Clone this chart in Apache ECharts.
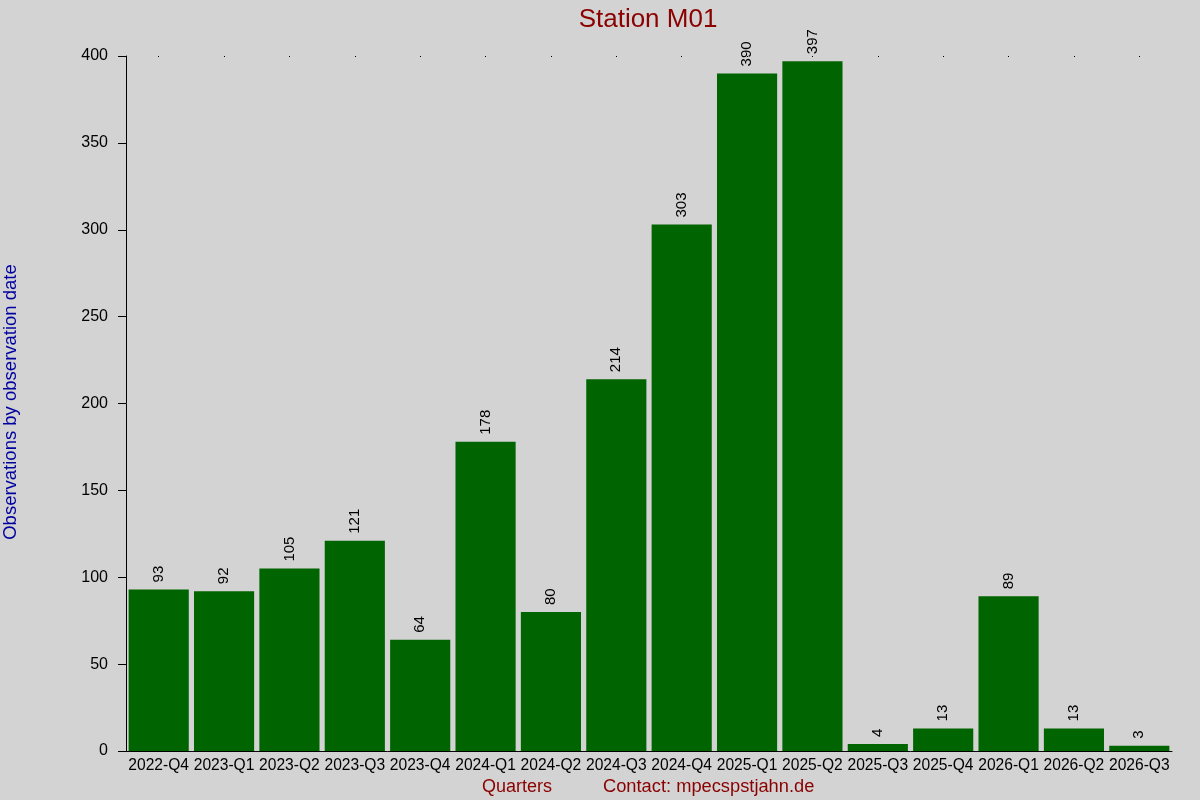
<!DOCTYPE html>
<html><head><meta charset="utf-8">
<script src="https://cdn.jsdelivr.net/npm/echarts@6/dist/echarts.min.js"></script>
<style>html,body{margin:0;padding:0;background:#d3d3d3;}#c{width:1200px;height:800px;}</style>
</head><body><div id="c"></div>
<script>
const categories = ["2022-Q4","2023-Q1","2023-Q2","2023-Q3","2023-Q4","2024-Q1","2024-Q2","2024-Q3","2024-Q4","2025-Q1","2025-Q2","2025-Q3","2025-Q4","2026-Q1","2026-Q2","2026-Q3"];
const observations = [93,92,105,121,64,178,80,214,303,390,397,4,13,89,13,3];
const yTicks = {min:0, max:400, interval:50};
const titleText = "Station M01";
const yName = "Observations by observation date";
const xName = "Quarters";
const contactText = "Contact: mpecspstjahn.de";

const FONT = "Liberation Sans, Arial, sans-serif";
const chart = echarts.init(document.getElementById('c'));
chart.setOption({
  backgroundColor: '#d3d3d3',
  animation: false,
  title: [
    {text: titleText, left: 643, top: 2, textAlign: 'center',
     textStyle: {color: '#8b0000', fontSize: 26, fontWeight: 'normal', fontFamily: FONT}},
    {text: xName, left: 512, top: 773, textAlign: 'center',
     textStyle: {color: '#8b0000', fontSize: 18, fontWeight: 'normal', fontFamily: FONT}},
    {text: contactText, left: 598, top: 773,
     textStyle: {color: '#8b0000', fontSize: 18.3, fontWeight: 'normal', fontFamily: FONT}}
  ],
  graphic: [{
    type: 'text', x: 11, y: 402, rotation: Math.PI/2,
    style: {text: yName, fill: '#0000a0', fontSize: 18.5, fontFamily: FONT,
            align: 'center', verticalAlign: 'middle'}
  }],
  grid: {left: 126, right: 28, top: 56, bottom: 49, containLabel: false},
  xAxis: [{
    type: 'category', data: categories, position: 'bottom',
    axisLine: {show: true, lineStyle: {color: '#000', width: 1}},
    axisTick: {show: false},
    axisLabel: {color: '#000', fontSize: 15.6, fontFamily: FONT, margin: 7, interval: 0}
  },{
    type: 'category', data: categories, position: 'top',
    axisLine: {show: false},
    axisTick: {show: true, alignWithLabel: true, length: 1, inside: true, lineStyle: {color: '#000'}},
    axisLabel: {show: false}
  }],
  yAxis: {
    type: 'value', min: yTicks.min, max: yTicks.max, interval: yTicks.interval,
    axisLine: {show: true, lineStyle: {color: '#000', width: 1}},
    axisTick: {show: true, length: 8, lineStyle: {color: '#000'}},
    axisLabel: {color: '#000', fontSize: 16, fontFamily: FONT, margin: 18},
    splitLine: {show: false}
  },
  series: [{
    type: 'bar', data: observations, xAxisIndex: 0,
    barCategoryGap: '8%',
    itemStyle: {color: '#006400'},
    label: {show: true, position: 'top', rotate: 90, align: 'left', verticalAlign: 'middle',
            distance: 7, color: '#000', fontSize: 15, fontFamily: FONT}
  }]
});
</script></body></html>
